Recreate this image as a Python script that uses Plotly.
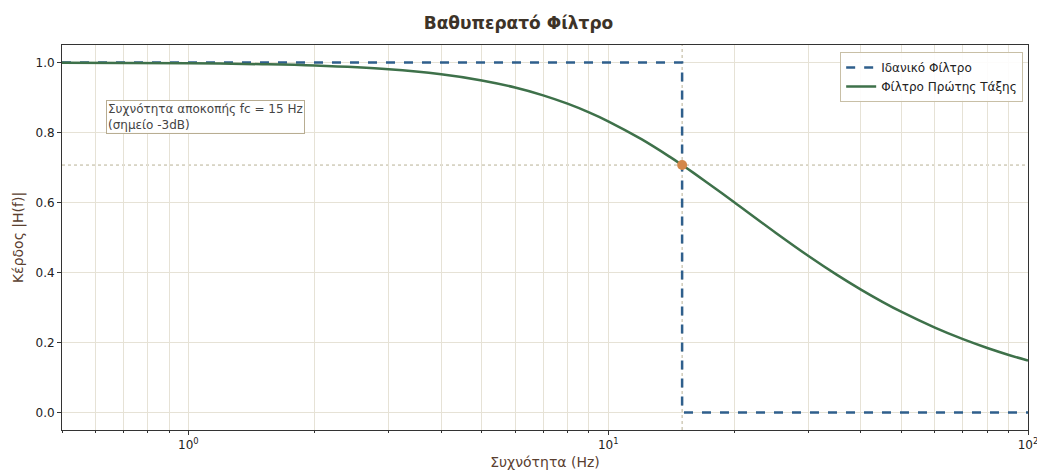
import plotly.graph_objects as go

# Data
fc = 15
cutoff_gain = 0.707
ideal_freq = [0.5, 15, 15, 100]
ideal_gain = [1.0, 1.0, 0.0, 0.0]
freq = [0.5, 0.7, 1, 1.5, 2, 3, 4, 5, 6, 7, 8, 9, 10, 12, 14, 15, 16, 18, 20, 25, 30,
        35, 40, 45, 50, 60, 70, 80, 90, 100]
gain = [0.9994, 0.9989, 0.9978, 0.995, 0.9912, 0.9806, 0.9662, 0.9487, 0.9285, 0.9062,
        0.8823, 0.8575, 0.8321, 0.7809, 0.7310, 0.7071, 0.6839, 0.6402, 0.6000, 0.5145,
        0.4472, 0.3939, 0.3511, 0.3162, 0.2873, 0.2425, 0.2095, 0.1843, 0.1644, 0.1483]
x_major = [1, 10, 100]
x_major_text = ["10<sup>0</sup>", "10<sup>1</sup>", "10<sup>2</sup>"]
x_minor = [0.5, 0.6, 0.7, 0.8, 0.9, 2, 3, 4, 5, 6, 7, 8, 9, 20, 30, 40, 50, 60, 70, 80, 90]
y_ticks = [0.0, 0.2, 0.4, 0.6, 0.8, 1.0]

FONT = "DejaVu Sans"
GRID = "#e6e2d6"
fig = go.Figure()

fig.add_trace(go.Scatter(x=ideal_freq, y=ideal_gain, mode="lines", name="Ιδανικό Φίλτρο",
                         line=dict(color="#2f5f8c", width=2.5, dash="dash")))
fig.add_trace(go.Scatter(x=freq, y=gain, mode="lines", name="Φίλτρο Πρώτης Τάξης",
                         line=dict(color="#3e714a", width=2.5, shape="spline")))
fig.add_trace(go.Scatter(x=[fc], y=[cutoff_gain], mode="markers", showlegend=False,
                         marker=dict(color="#d4884a", size=10)))

fig.add_hline(y=cutoff_gain, line=dict(color="#b9b196", width=1, dash="dot"), layer="below")
fig.add_vline(x=fc, line=dict(color="#b9b196", width=1, dash="dot"), layer="below")

fig.add_annotation(xref="paper", yref="paper", x=0.046, y=0.858, xanchor="left", yanchor="top",
                   text="Συχνότητα αποκοπής fc = 15 Hz<br>(σημείο -3dB)", showarrow=False,
                   align="left", font=dict(family=FONT, size=12, color="#444444"),
                   bordercolor="#b8ad92", borderwidth=1, borderpad=1,
                   bgcolor="rgba(255,255,255,0.85)")

fig.update_layout(
    width=1037, height=470,
    margin=dict(l=62, r=9, t=45, b=40),
    paper_bgcolor="white", plot_bgcolor="white",
    title=dict(text="<b>Βαθυπερατό Φίλτρο</b>", x=0.5, xanchor="center", y=0.95, yanchor="middle",
               font=dict(family=FONT, size=17, color="#3d3328")),
    font=dict(family=FONT, size=12, color="#222222"),
    legend=dict(x=0.995, y=0.982, xanchor="right", yanchor="top", itemwidth=30,
                bgcolor="rgba(255,255,255,0.9)", bordercolor="#c8bfa6", borderwidth=1,
                font=dict(family=FONT, size=12, color="#222222")),
    showlegend=True,
)
fig.update_xaxes(type="log", range=[-0.30103, 2], tickvals=x_major, ticktext=x_major_text,
                 showgrid=True, gridcolor=GRID, gridwidth=1, automargin=False,
                 ticks="outside", ticklen=4, tickcolor="#333333", ticklabeloverflow="allow",
                 showline=True, linecolor="#333333", linewidth=1, mirror=True,
                 zeroline=False, tickfont=dict(size=12),
                 minor=dict(tickvals=x_minor, showgrid=True, gridcolor=GRID, ticks="outside",
                            ticklen=2, tickcolor="#333333"),
                 title=dict(text="Συχνότητα (Hz)", standoff=10,
                            font=dict(family=FONT, size=14, color="#5a4030")))
fig.update_yaxes(range=[-0.05, 1.05], tickvals=y_ticks, tickformat=".1f",
                 showgrid=True, gridcolor=GRID, gridwidth=1, automargin=False,
                 ticks="outside", ticklen=4, tickcolor="#333333",
                 showline=True, linecolor="#333333", linewidth=1, mirror=True,
                 zeroline=False, tickfont=dict(size=12),
                 title=dict(text="Κέρδος |H(f)|", standoff=8,
                            font=dict(family=FONT, size=14, color="#5a4030")))

fig.write_html("out.html")
